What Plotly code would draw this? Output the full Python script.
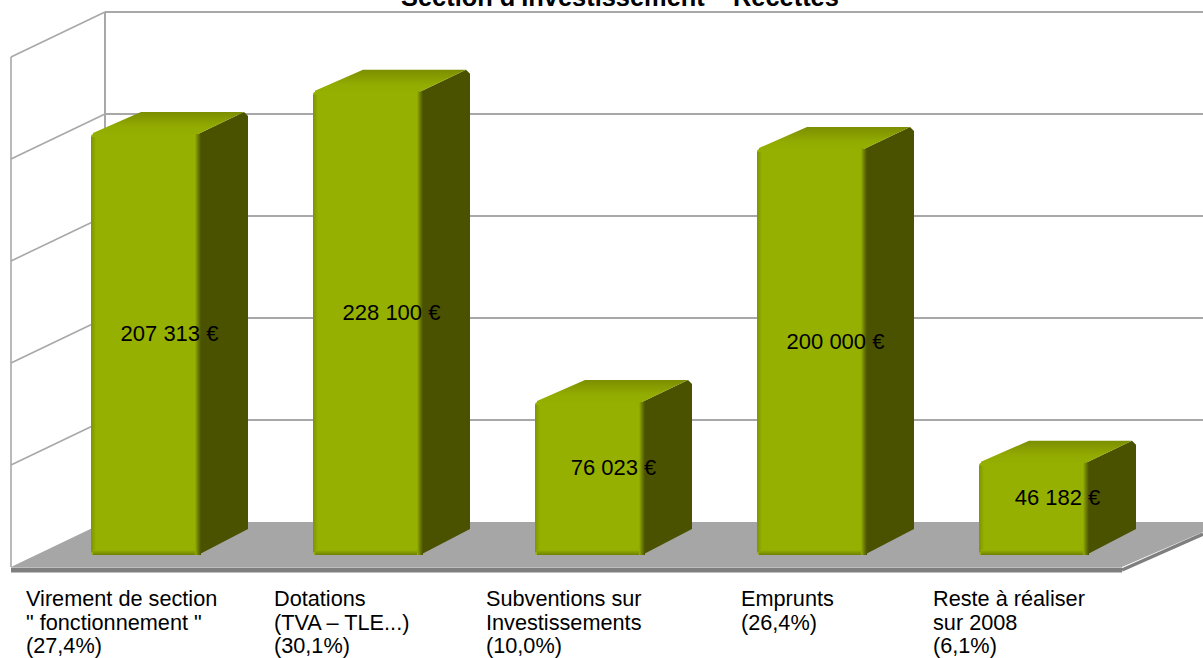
import plotly.graph_objects as go

# ---- data ----
categories = [["Virement de section", "\" fonctionnement \"", "(27,4%)"],
              ["Dotations", "(TVA – TLE...)", "(30,1%)"],
              ["Subventions sur", "Investissements", "(10,0%)"],
              ["Emprunts", "(26,4%)"],
              ["Reste à réaliser", "sur 2008", "(6,1%)"]]
values = [207313, 228100, 76023, 200000, 46182]
value_labels = ["207 313 €", "228 100 €", "76 023 €", "200 000 €", "46 182 €"]
grid_values = [50000, 100000, 150000, 200000, 250000]
title = "Section d'Investissement – Recettes"

# ---- layout / projection ----
W, H = 1203, 658
PX = 0.00204            # pixels per euro
BASE = 557              # pixel row of value 0 at the bars' front face
def e(px):              # a pixel distance as euros
    return px / PX
y_range = [(BASE - H) / PX, BASE / PX]

FONT = "Liberation Sans"
GRID = "#a8a8a8"
FRONT, SIDE = "#95b000", "#4a5200"

fig = go.Figure()

def poly(xs, ys, color=None, gradient=None):
    kw = dict(fillgradient=gradient) if gradient else dict(fillcolor=color)
    fig.add_trace(go.Scatter(x=xs + xs[:1], y=ys + ys[:1], mode="lines", fill="toself",
                             line=dict(width=0), hoverinfo="skip", showlegend=False, **kw))

def wall_line(x0, y0, x1, y1, color=GRID, width=2):
    fig.add_shape(type="line", x0=x0, y0=y0, x1=x1, y1=y1, xref="x", yref="y", layer="below",
                  line=dict(color=color, width=width))

# wall geometry, offsets from the zero row
FX, BX = 11, 105
FO, BO = e(-10), e(35)
RIGHT = W + 2

# floor
fig.add_shape(type="path", xref="x", yref="y", layer="below", line=dict(width=0), fillcolor="#a6a6a6",
              path=f"M{FX},{FO} L{BX},{BO} L{W},{BO} L{W},{e(25)} L1122,{FO} Z")
# grid on both walls
for g in grid_values:
    wall_line(FX, g + FO, BX, g + BO, width=1.6)
    wall_line(BX, g + BO, RIGHT, g + BO)
wall_line(FX, FO, FX, grid_values[-1] + FO, width=1.6)
wall_line(BX, BO, BX, grid_values[-1] + BO)
# front edge of floor
wall_line(FX, e(-13), 1122, e(-13), "#7f7f7f", 5)
wall_line(1122, e(-13), W, e(23), "#7f7f7f", 3.5)

# bars
LEFT0, STEP, BW = 91, 222, 107
DX, DY = 50, e(22)
FOOT = e(2)             # the block stands slightly behind the value-zero row
lefts = [LEFT0 + i * STEP for i in range(len(values))]
fig.add_trace(go.Bar(x=[x + BW / 2 for x in lefts], y=[v - FOOT for v in values], base=FOOT, width=BW,
                     marker=dict(color=FRONT, line=dict(width=0), cornerradius=3),
                     hoverinfo="skip", showlegend=False))

for x0, v in zip(lefts, values):
    x1 = x0 + BW
    c = e(4)
    poly([x1, x1 + DX, x1 + DX, x1 + DX - 4, x1],
         [FOOT, FOOT + DY + c, v + DY - c, v + DY, v], SIDE)
    poly([x0 + 2, x0 + DX, x1 + DX - 4, x1, x1, x0 + 2],
         [v + e(1), v + DY, v + DY, v, v - e(2), v - e(2)],
         gradient=dict(type="vertical",
                       colorscale=[[0, "#95b000"], [0.4, "#92ab00"], [1, "#7c8e00"]]))
    # soft bevels
    poly([x0, x0 + 5, x0 + 5, x0], [FOOT + e(3), FOOT + e(3), v - e(3), v - e(3)],
         gradient=dict(type="horizontal", colorscale=[[0, "#7f9400"], [1, FRONT]]))
    poly([x0 + 2, x1, x1, x0 + 2], [FOOT, FOOT, FOOT + e(5), FOOT + e(5)],
         gradient=dict(type="vertical", colorscale=[[0, "#6f8000"], [1, FRONT]]))
    poly([x1 - 3, x1 + 3, x1 + 3, x1 - 3], [FOOT, FOOT, v, v],
         gradient=dict(type="horizontal", colorscale=[[0, FRONT], [0.5, "#6d7d00"], [1, SIDE]]))

# value labels centred in the block
fig.add_trace(go.Scatter(x=[x + BW / 2 + DX / 2 for x in lefts],
                         y=[v / 2 + DY / 2 - e(1) for v in values],
                         mode="text", text=value_labels,
                         textfont=dict(family=FONT, size=22, color="#000000"),
                         textposition="middle center", hoverinfo="skip", showlegend=False))

# category labels, line by line
label_x = [24, 272, 484, 739, 931]
label_row = [598, 622, 645.5]
for lx, lines in zip(label_x, categories):
    for row, txt in zip(label_row, lines):
        fig.add_annotation(x=lx, y=e(BASE - row), yref="y", xref="x", text=txt, showarrow=False,
                           xanchor="left", yanchor="middle", align="left",
                           font=dict(family=FONT, size=21.7, color="#000000"))

fig.add_annotation(x=619.5, y=1, xref="x", yref="paper", yshift=3.5, text="<b>" + title + "</b>",
                   showarrow=False, xanchor="center", yanchor="middle",
                   font=dict(family=FONT, size=25.4, color="#000000"))

fig.update_layout(width=W, height=H, margin=dict(l=0, r=0, t=0, b=0),
                  paper_bgcolor="#ffffff", plot_bgcolor="#ffffff",
                  showlegend=False,
                  xaxis=dict(range=[0, W], visible=False, fixedrange=True),
                  yaxis=dict(range=y_range, visible=False, fixedrange=True))

fig.write_html("out.html", config=dict(displayModeBar=False),
               post_script="document.body.style.margin='0';document.body.style.overflow='hidden';")
